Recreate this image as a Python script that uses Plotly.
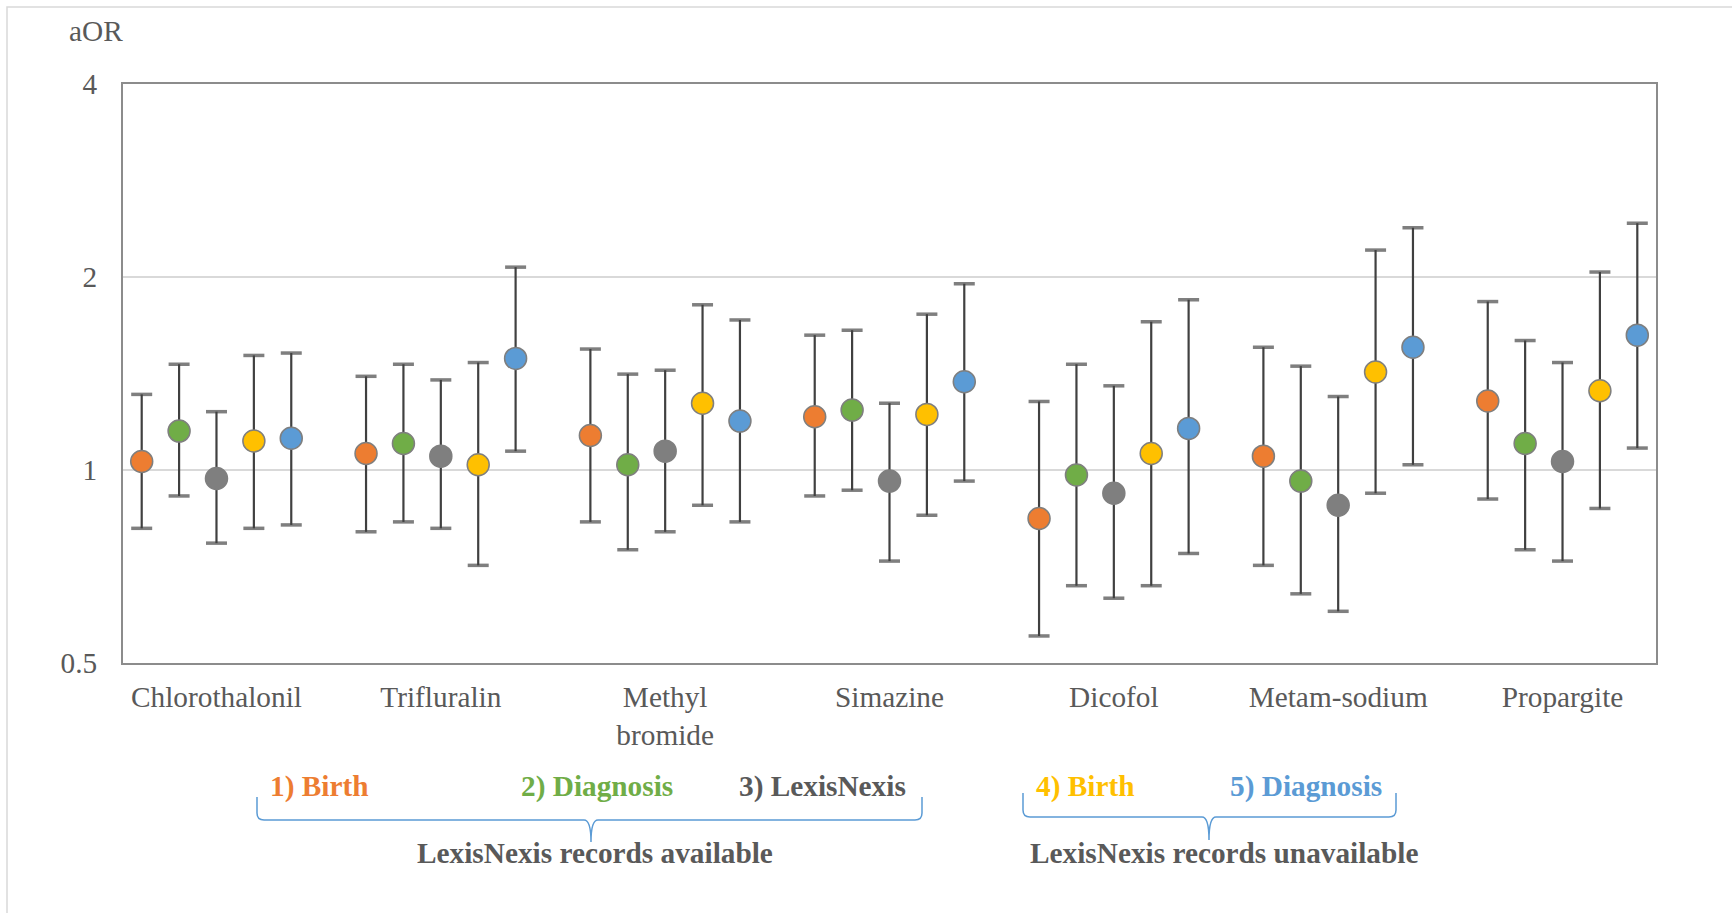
import plotly.graph_objects as go

# ---------------- data ----------------
categories = ["Chlorothalonil", "Trifluralin", "Methyl<br>bromide", "Simazine",
              "Dicofol", "Metam-sodium", "Propargite"]

series_names = ["1) Birth", "2) Diagnosis", "3) LexisNexis", "4) Birth", "5) Diagnosis"]
series_colors = ["#ED7D31", "#70AD47", "#7F7F7F", "#FFC000", "#5B9BD5"]

birth_avail_aor = [1.031, 1.061, 1.132, 1.211, 0.840, 1.051, 1.281]
birth_avail_lo = [0.811, 0.801, 0.830, 0.911, 0.551, 0.710, 0.901]
birth_avail_hi = [1.312, 1.400, 1.544, 1.623, 1.279, 1.554, 1.831]

diag_avail_aor = [1.150, 1.100, 1.019, 1.240, 0.982, 0.961, 1.100]
diag_avail_lo = [0.911, 0.830, 0.751, 0.930, 0.660, 0.641, 0.751]
diag_avail_hi = [1.462, 1.462, 1.411, 1.652, 1.462, 1.452, 1.592]

lexis_aor = [0.970, 1.051, 1.070, 0.961, 0.920, 0.881, 1.031]
lexis_lo = [0.769, 0.811, 0.801, 0.721, 0.631, 0.602, 0.721]
lexis_hi = [1.233, 1.382, 1.431, 1.271, 1.353, 1.302, 1.471]

birth_unavail_aor = [1.110, 1.019, 1.271, 1.221, 1.061, 1.422, 1.329]
birth_unavail_lo = [0.811, 0.710, 0.881, 0.850, 0.660, 0.920, 0.871]
birth_unavail_hi = [1.509, 1.471, 1.810, 1.750, 1.703, 2.203, 2.036]

diag_unavail_aor = [1.121, 1.493, 1.192, 1.373, 1.161, 1.554, 1.623]
diag_unavail_lo = [0.821, 1.070, 0.830, 0.961, 0.741, 1.019, 1.082]
diag_unavail_hi = [1.522, 2.072, 1.714, 1.952, 1.843, 2.387, 2.426]

y_ticks = [0.5, 1, 2, 4]
y_tick_labels = ["0.5", "1", "2", "4"]

all_series = [
    (birth_avail_aor, birth_avail_lo, birth_avail_hi),
    (diag_avail_aor, diag_avail_lo, diag_avail_hi),
    (lexis_aor, lexis_lo, lexis_hi),
    (birth_unavail_aor, birth_unavail_lo, birth_unavail_hi),
    (diag_unavail_aor, diag_unavail_lo, diag_unavail_hi),
]

# ---------------- layout geometry ----------------
W, H = 1732, 913
ML, MR, MT, MB = 123, 76, 84, 250
PW, PH = W - ML - MR, H - MT - MB
FONT = "Liberation Serif"
TXT = "#595959"
FS = 29.3


def px(x):
    return (x - ML) / PW


def py(y):
    return (H - MB - y) / PH


n_series = len(series_names)
group_step = n_series + 1

cap_traces, point_traces = [], []
for s, (name, color, (aor, lo, hi)) in enumerate(zip(series_names, series_colors, all_series)):
    xs = [g * group_step + s + 1 for g in range(len(categories))]
    point_traces.append(go.Scatter(
        x=xs, y=aor, mode="markers", name=name, showlegend=False,
        marker=dict(size=22, color=color, line=dict(color="#7F7F7F", width=1.5)),
        error_y=dict(type="data", symmetric=False,
                     array=[h - a for h, a in zip(hi, aor)],
                     arrayminus=[a - l for a, l in zip(aor, lo)],
                     color="#404040", thickness=2.2, width=0),
        cliponaxis=False,
    ))
    cap_traces.append(go.Scatter(
        x=xs + xs, y=lo + hi, mode="markers", showlegend=False, hoverinfo="skip",
        marker=dict(symbol="line-ew", size=15, color="#7F7F7F",
                    line=dict(color="#7F7F7F", width=3.5)),
        cliponaxis=False,
    ))

fig = go.Figure(data=cap_traces + point_traces)

fig.update_xaxes(
    range=[0.5, len(categories) * group_step - 0.5],
    tickvals=[g * group_step + (n_series + 1) / 2 for g in range(len(categories))],
    ticktext=categories,
    showgrid=False, zeroline=False, ticks="",
    showline=True, linecolor="#8C8C8C", linewidth=2, mirror=True,
    tickfont=dict(family=FONT, size=FS, color=TXT),
    ticklabelstandoff=7,
)
fig.update_yaxes(
    type="log", range=[-0.30103, 0.60206],
    tickvals=y_ticks, ticktext=y_tick_labels,
    showgrid=True, gridcolor="#D9D9D9", gridwidth=1.5, zeroline=False, ticks="",
    showline=True, linecolor="#8C8C8C", linewidth=2, mirror=True,
    tickfont=dict(family=FONT, size=FS, color=TXT),
    ticklabelstandoff=18,
)


def brace_path(x0, x1, xm, ytop, ymid, ytip, r=7):
    pts = [
        ("M", [(x0, ytop)]),
        ("L", [(x0, ymid - r)]),
        ("Q", [(x0, ymid), (x0 + r, ymid)]),
        ("L", [(xm - r, ymid)]),
        ("Q", [(xm, ymid), (xm, ytip)]),
        ("Q", [(xm, ymid), (xm + r, ymid)]),
        ("L", [(x1 - r, ymid)]),
        ("Q", [(x1, ymid), (x1, ymid - r)]),
        ("L", [(x1, ytop)]),
    ]
    out = []
    for cmd, ps in pts:
        out.append(cmd + " ".join(f"{px(a):.5f},{py(b):.5f}" for a, b in ps))
    return " ".join(out)


shapes = [
    dict(type="rect", xref="paper", yref="paper", x0=px(7), y0=py(7), x1=px(W + 20), y1=py(H + 20),
         line=dict(color="#D9D9D9", width=1.5), fillcolor="rgba(0,0,0,0)", layer="below"),
    dict(type="path", xref="paper", yref="paper",
         path=brace_path(257, 922, 591, 797, 820, 842), line=dict(color="#5B9BD5", width=1.5)),
    dict(type="path", xref="paper", yref="paper",
         path=brace_path(1023, 1396, 1209, 793, 817, 840), line=dict(color="#5B9BD5", width=1.5)),
]

annotations = [
    dict(text="aOR", x=px(96), y=py(31), xanchor="center", yanchor="middle",
         font=dict(family=FONT, size=FS, color=TXT)),
    dict(text="<b>LexisNexis records available</b>", x=px(595), y=py(853), xanchor="center", yanchor="middle",
         font=dict(family=FONT, size=FS, color=TXT)),
    dict(text="<b>LexisNexis records unavailable</b>", x=px(1224), y=py(853), xanchor="center", yanchor="middle",
         font=dict(family=FONT, size=FS, color=TXT)),
]
label_left = [268, 519, 737, 1034, 1228]
label_colors = ["#ED7D31", "#70AD47", "#595959", "#FFC000", "#5B9BD5"]
for name, xl, col in zip(series_names, label_left, label_colors):
    annotations.append(dict(text=f"<b>{name}</b>", x=px(xl), y=py(786), xanchor="left", yanchor="middle",
                            font=dict(family=FONT, size=FS, color=col)))
for a in annotations:
    a.update(xref="paper", yref="paper", showarrow=False)

fig.update_layout(
    width=W, height=H,
    margin=dict(l=ML, r=MR, t=MT, b=MB, pad=0),
    paper_bgcolor="white", plot_bgcolor="white",
    shapes=shapes, annotations=annotations,
    font=dict(family=FONT, color=TXT),
    showlegend=False,
)

fig.write_html("out.html", config={"displayModeBar": False},
               post_script="document.body.style.margin='0';")
